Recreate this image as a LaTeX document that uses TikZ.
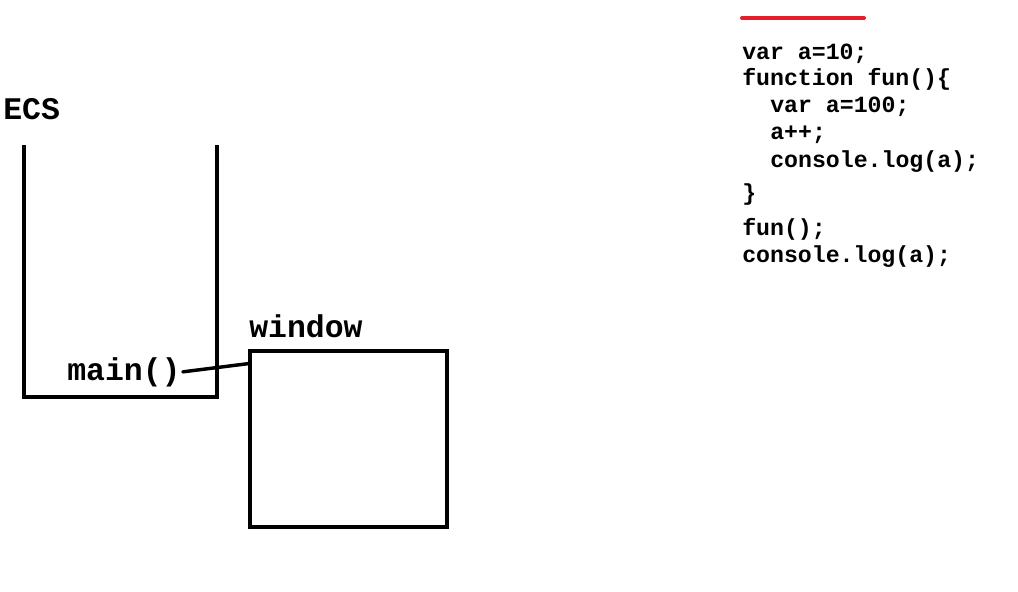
\documentclass[tikz,border=0pt]{standalone}
\usepackage{fontspec}
\setmonofont{Liberation Mono}
\usetikzlibrary{positioning}

\tikzset{
    lbl/.style={font=\ttfamily\bfseries\fontsize{23.6}{28}\selectfont, inner sep=0pt, anchor=base west},
    code/.style={font=\ttfamily\bfseries\fontsize{17.4}{21}\selectfont, inner sep=0pt, anchor=base west},
    wall/.style={line width=3pt},
    link/.style={line width=2.6pt, line cap=round}
}

\begin{document}
\begin{tikzpicture}[x=0.75pt, y=-0.75pt]
    \useasboundingbox (0,0) rectangle (1018,592);

    % Execution context stack
    \node[lbl] (ecs) at (3, 119) {ECS};
    \draw[wall] (24,145) |- (217,397) -- (217,145);
    \node[lbl] (main) at (67, 380) {main()};

    % Global object
    \node[lbl] (winlabel) at (249, 337) {window};
    \node[draw, wall, rectangle, minimum width=147.75pt, minimum height=132pt, inner sep=0pt] (window) at (348.5, 439) {};

    % Connection
    \draw[link] ([xshift=1.5pt]main.east) -- ([yshift=-11pt]window.north west);

    % Source code
    \draw[line width=3pt, color={rgb,255:red,230;green,30;blue,40}, line cap=round] (742,18) coordinate (redl) -- (864,18) coordinate (redr);
    \foreach \x/\y/\t in {742/60/var a=10;, 742/86/function fun()\{, 770/113/var a=100;, 770/139/a++;, 770/167/console.log(a);, 742/200/\}, 742/235/fun();, 742/262/console.log(a);} {
        \node[code] at (\x, \y) {\t};
    }
\end{tikzpicture}
\end{document}
